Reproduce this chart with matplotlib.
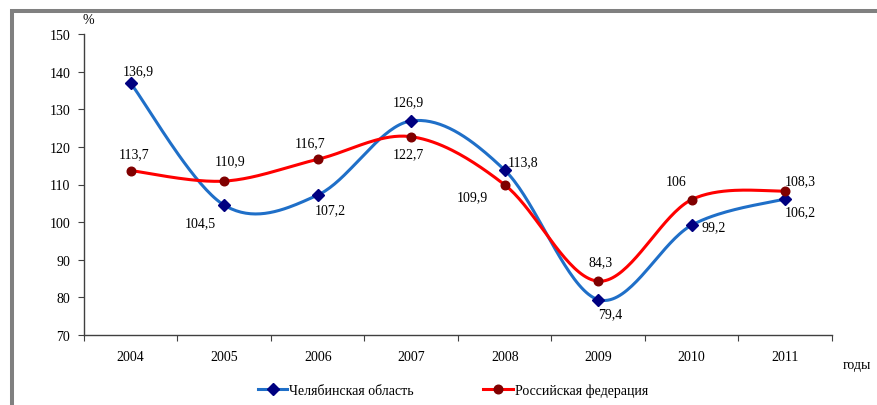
import numpy as np
import matplotlib.pyplot as plt
from matplotlib.patches import Rectangle

plt.rcParams['font.family'] = ['Liberation Serif', 'DejaVu Serif']

years = ["2004", "2005", "2006", "2007", "2008", "2009", "2010", "2011"]
chel = [136.9, 104.5, 107.2, 126.9, 113.8, 79.4, 99.2, 106.2]
rf = [113.7, 110.9, 116.7, 122.7, 109.9, 84.3, 106, 108.3]
chel_name = "Челябинская область"
rf_name = "Российская федерация"

# label offsets in pixels (dx right, dy down)
chel_off = [(8, -13), (-24, 17), (13, 15), (-3, -19), (18, -9), (12, 14), (22, 2), (15, 13)]
rf_off = [(3, -17), (6, -20), (-8, -17), (-3, 17), (-32, 12), (2, -20), (-16, -18), (15, -10)]


def smooth(xs, ys, n=40):
    # Excel-like smoothed line: Catmull-Rom through Bezier segments
    p = np.column_stack([xs, ys]).astype(float)
    pts = np.vstack([p[0], p, p[-1]])
    t = np.linspace(0, 1, n)[:, None]
    out = []
    for i in range(1, len(pts) - 2):
        p0, p3 = pts[i], pts[i + 1]
        c1 = p0 + (pts[i + 1] - pts[i - 1]) / 6
        c2 = p3 - (pts[i + 2] - pts[i]) / 6
        seg = ((1 - t) ** 3) * p0 + 3 * ((1 - t) ** 2) * t * c1 + 3 * (1 - t) * t ** 2 * c2 + t ** 3 * p3
        out.append(seg if i == 1 else seg[1:])
    out = np.vstack(out)
    return out[:, 0], out[:, 1]


def fmt(v):
    s = ("%.1f" % v).replace(".", ",")
    return s[:-2] if s.endswith(",0") else s


fig = plt.figure(figsize=(8.78, 4.06), dpi=100)
ax = fig.add_axes([84 / 878, 1 - 336 / 406, (832 - 84) / 878, (336 - 35) / 406])

x = np.arange(len(years)) + 0.5
blue, navy = "#1F6FC8", "#000080"
red, maroon = "#FF0000", "#800000"

sx, sy = smooth(x, chel)
ax.plot(sx, sy, color=blue, lw=2.2, zorder=3)
ax.plot(x, chel, ls="none", marker="D", ms=5.8, color=navy, zorder=4)
sx, sy = smooth(x, rf)
ax.plot(sx, sy, color=red, lw=2.2, zorder=3)
ax.plot(x, rf, ls="none", marker="o", ms=6.2, color=maroon, zorder=4)

for xi, v, (dx, dy) in zip(x, chel, chel_off):
    ax.annotate(fmt(v), (xi, v), xytext=(dx * 0.72, -dy * 0.72), textcoords="offset points",
                ha="center", va="center", fontsize=10)
for xi, v, (dx, dy) in zip(x, rf, rf_off):
    ax.annotate(fmt(v), (xi, v), xytext=(dx * 0.72, -dy * 0.72), textcoords="offset points",
                ha="center", va="center", fontsize=10)

ax.set_xlim(0, len(years))
ax.set_ylim(70, 150)
ax.set_yticks(range(70, 151, 10))
ax.set_xticks(range(len(years) + 1))
ax.set_xticklabels([])
ax.set_xticks(x, minor=True)
ax.set_xticklabels(years, minor=True)
ax.tick_params(axis="x", which="minor", length=0, pad=11, labelsize=10)
ax.tick_params(axis="x", which="major", length=4, direction="out", color="#404040")
ax.tick_params(axis="y", length=4, direction="out", labelsize=10, pad=6, color="#404040")
for s in ["top", "right"]:
    ax.spines[s].set_visible(False)
for s in ["left", "bottom"]:
    ax.spines[s].set_color("#404040")
    ax.spines[s].set_linewidth(1)

fig.text(88 / 878, 1 - 20 / 406, "%", fontsize=10, ha="center", va="center")
fig.text(857 / 878, 1 - 366 / 406, "годы", fontsize=10, ha="center", va="center")

h1, = ax.plot([], [], color=blue, lw=2.2, marker="D", ms=5.8, mfc=navy, mec=navy)
h2, = ax.plot([], [], color=red, lw=2.2, marker="o", ms=6.2, mfc=maroon, mec=maroon)
fig.legend([h1, h2], [chel_name, rf_name], loc="center", bbox_to_anchor=(453 / 878, 1 - 391 / 406),
           ncol=2, frameon=False, fontsize=10, handlelength=2.1, handletextpad=0.15,
           columnspacing=5.0)

# grey frame (top and left edges visible)
fig.patches.append(Rectangle((12 / 878, -0.2), 1.2, 1.2 - 12 / 406, transform=fig.transFigure,
                             fill=False, ec="#808080", lw=2.9, zorder=10))

fig.savefig("out.png", dpi=100)
